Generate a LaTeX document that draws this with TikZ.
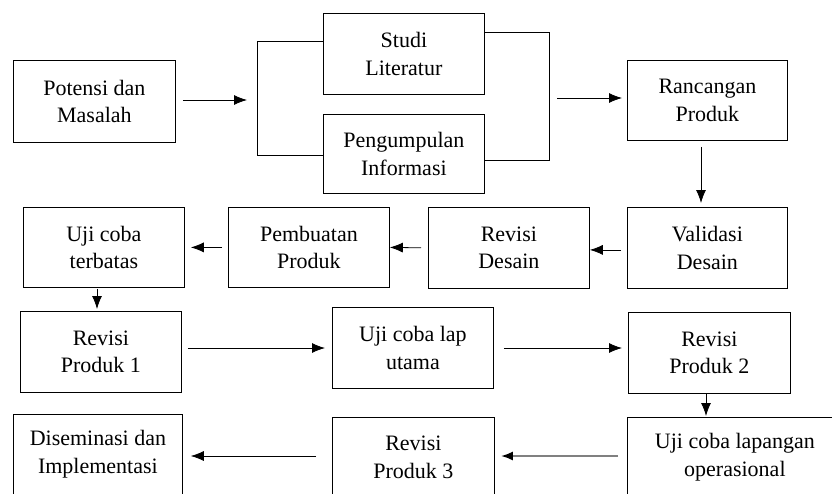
\documentclass[tikz,border=0pt]{standalone}
\usepackage{fontspec}
\setmainfont{Liberation Serif}
\usetikzlibrary{arrows.meta}
\begin{document}
\begin{tikzpicture}[x=1pt,y=-1pt,
  box/.style={draw=black, line width=0.8pt, inner sep=0pt, align=center, anchor=north west,
    font=\fontsize{22}{27.5}\selectfont},
  link/.style={draw=black, line width=0.8pt},
  arr/.style={link, -{Latex[length=13pt,width=10pt]}},
  grayarr/.style={draw=black!50, line width=2.2pt, -{Latex[length=12pt,width=9pt,color=black]}}]
\clip (0,0) rectangle (832,493);
\fill[white] (0,0) rectangle (832,493);
% boxes
\node[box, minimum width=162, minimum height=82] (potensi) at (13,60) {Potensi dan\\Masalah};
\node[box, minimum width=161, minimum height=81] (studi) at (323,13) {Studi\\Literatur};
\node[box, minimum width=161, minimum height=79] (peng) at (323,114) {Pengumpulan\\Informasi};
\node[box, minimum width=160, minimum height=80] (ranc) at (627,60) {Rancangan\\Produk};
\node[box, minimum width=160, minimum height=81] (valid) at (627,207) {Validasi\\Desain};
\node[box, minimum width=161, minimum height=81] (revdes) at (428,207) {Revisi\\Desain};
\node[box, minimum width=161, minimum height=80] (pemb) at (228,207) {Pembuatan\\Produk};
\node[box, minimum width=161, minimum height=80] (ujiter) at (23,207) {Uji coba\\terbatas};
\node[box, minimum width=161, minimum height=81] (rev1) at (20,311) {Revisi\\Produk 1};
\node[box, minimum width=161, minimum height=81] (ujilap) at (332,307) {Uji coba lap\\utama};
\node[box, minimum width=162, minimum height=81] (rev2) at (628,312) {Revisi\\Produk 2};
\node[box, minimum width=215, minimum height=80] (ujiop) at (627,417) {Uji coba lapangan\\operasional};
\node[box, minimum width=162, minimum height=80] (rev3) at (332,417) {Revisi\\Produk 3};
\node[box, minimum width=169, minimum height=80] (disem) at (13,414) {Diseminasi dan\\Implementasi};
% helper coordinates
\coordinate (lt) at (257,41);
\coordinate (lb) at (257,155);
\coordinate (lm) at (257,100);
\coordinate (rt) at (549,32);
\coordinate (rb) at (549,160);
\coordinate (rm) at (549,98);
\coordinate (cx1) at (701,0);
\coordinate (cx2) at (97,0);
\coordinate (cy3) at (0,348);
\coordinate (cx4) at (706,0);
\coordinate (opy) at (600,456);
% brackets
\draw[link] (studi.west |- lt) -- (lt) -- (lb) -- (peng.west |- lb);
\draw[link] (studi.east |- rt) -- (rt) -- (rb) -- (peng.east |- rb);
% arrows
\draw[arr, shorten <=7pt, shorten >=10pt] (potensi.east |- lm) -- (lm);
\draw[arr, shorten <=8pt, shorten >=5pt] (rm) -- (ranc.west |- rm);
\draw[arr, shorten <=6pt, shorten >=4pt] (cx1 |- ranc.south) -- (cx1 |- valid.north);
\draw[arr, shorten <=6pt] ([yshift=-2]valid.west) -- ([yshift=-2]revdes.east);
\draw[arr, shorten <=7pt] (revdes.west) -- (pemb.east);
\draw[arr, shorten <=6pt, shorten >=6pt] (pemb.west) -- (ujiter.east);
\draw[arr, shorten <=1pt, shorten >=2pt] (cx2 |- ujiter.south) -- (cx2 |- rev1.north);
\draw[arr, shorten <=6pt, shorten >=7pt] (rev1.east |- cy3) -- (ujilap.west |- cy3);
\draw[arr, shorten <=10pt, shorten >=6pt] (ujilap.east |- cy3) -- (rev2.west |- cy3);
\draw[arr, shorten >=1pt] (cx4 |- rev2.south) -- (cx4 |- ujiop.north);
\draw[grayarr, shorten <=9pt, shorten >=6pt] (ujiop.west |- opy) -- (rev3.east |- opy);
\draw[arr, shorten <=16pt, shorten >=8pt] (rev3.west |- opy) -- (disem.east |- opy);
\end{tikzpicture}
\end{document}
